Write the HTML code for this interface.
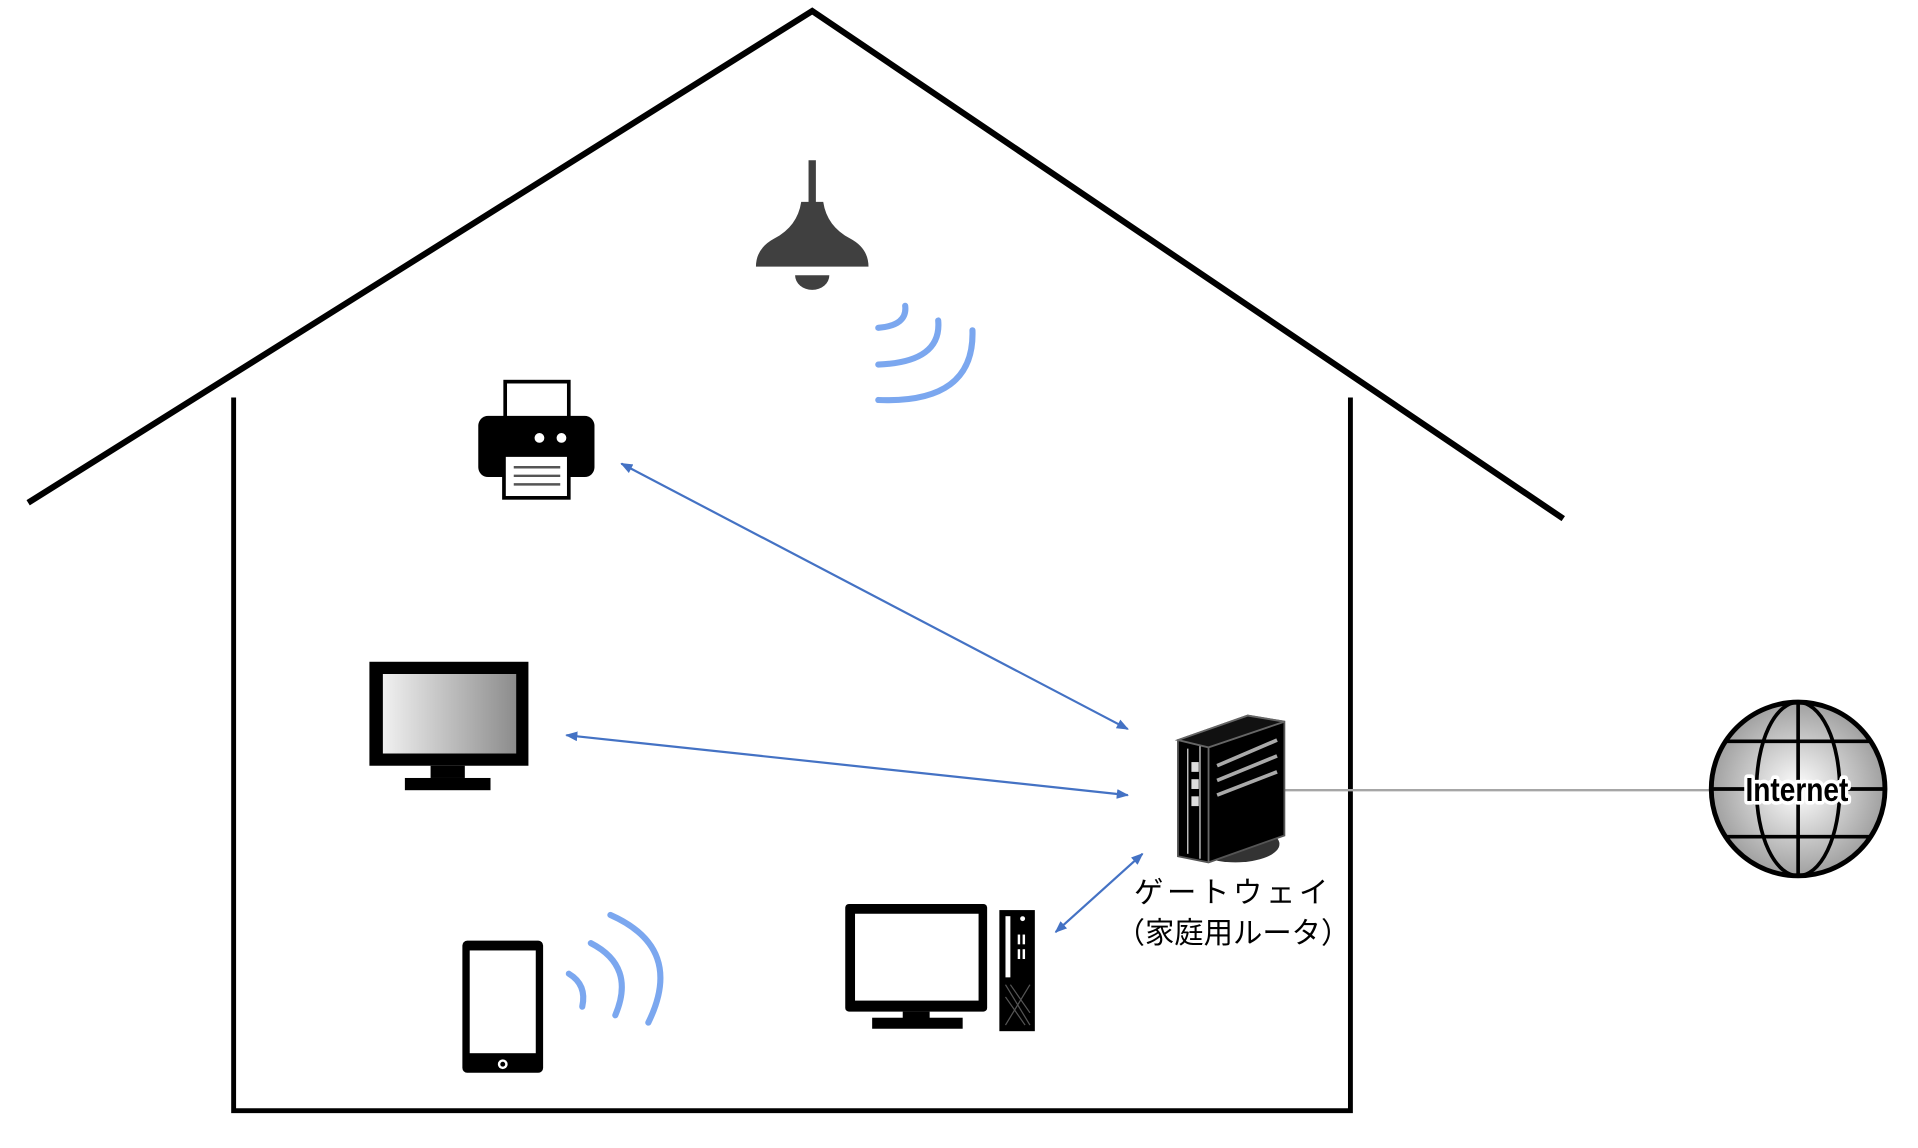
<!DOCTYPE html>
<html><head><meta charset="utf-8"><style>html,body{margin:0;padding:0;background:#fff;}svg{display:block}</style></head>
<body>
<svg width="1918" height="1148" viewBox="0 0 1568 938.5" preserveAspectRatio="none" xmlns="http://www.w3.org/2000/svg">
<defs>
<linearGradient id="scr" x1="0" x2="1" y1="0" y2="0"><stop offset="0" stop-color="#f0f0f0"/><stop offset="1" stop-color="#8c8c8c"/></linearGradient>
<radialGradient id="glb" cx="0.5" cy="0.5" r="0.5"><stop offset="0" stop-color="#ffffff"/><stop offset="1" stop-color="#a0a0a0"/></radialGradient>
<marker id="ah" markerWidth="10" markerHeight="8" refX="9" refY="4" orient="auto-start-reverse" markerUnits="userSpaceOnUse"><path d="M0,0 L10,4 L0,8 z" fill="#4472c4"/></marker>
</defs>
<polyline points="23,411 664,9 1278,424" fill="none" stroke="#000" stroke-width="5"/>
<path d="M191,325 V908 H1104 V325" fill="none" stroke="#000" stroke-width="4"/>
<rect x="661" y="131" width="6" height="36" fill="#404040"/>
<path d="M655,165 H673 Q676,185 695,195 Q710,203 710,218 H618 Q618,203 633,195 Q652,185 655,165 z" fill="#404040"/>
<path d="M650,225 A14,12 0 0 0 678,225 z" fill="#404040"/>
<g fill="none" stroke="#7ba7ef" stroke-width="5" stroke-linecap="round">
<path d="M740,250 Q742,266 718,268"/>
<path d="M767,262 Q770,296 718,298"/>
<path d="M795,270 Q797,330 718,327"/>
<path d="M465,796 Q480,805 476,823"/>
<path d="M483,771 Q520,790 503,830"/>
<path d="M499,748 Q560,775 530,836"/>
</g>
<rect x="413" y="312" width="52" height="32" fill="#fff" stroke="#000" stroke-width="3"/>
<rect x="391" y="340" width="95" height="50" rx="8" fill="#000"/>
<circle cx="441" cy="358" r="4" fill="#fff"/><circle cx="459" cy="358" r="4" fill="#fff"/>
<rect x="412" y="372" width="53" height="35" fill="#fff" stroke="#000" stroke-width="3"/>
<g stroke="#555" stroke-width="2"><line x1="420" y1="382" x2="458" y2="382"/><line x1="420" y1="389" x2="458" y2="389"/><line x1="420" y1="396" x2="458" y2="396"/></g>
<rect x="302" y="541" width="130" height="85" fill="#000"/>
<rect x="313" y="551" width="109" height="65" fill="url(#scr)"/>
<rect x="352" y="626" width="28" height="10" fill="#000"/>
<rect x="331" y="636" width="70" height="10" fill="#000"/>
<rect x="378" y="769" width="66" height="108" rx="4" fill="#000"/>
<rect x="384" y="777" width="54" height="84" fill="#fff"/>
<circle cx="411" cy="870" r="4" fill="#fff"/><circle cx="411" cy="870" r="2" fill="#000"/>
<rect x="691" y="739" width="116" height="88" rx="3" fill="#000"/>
<rect x="699" y="747" width="101" height="71" fill="#fff"/>
<rect x="738" y="827" width="22" height="6" fill="#000"/>
<rect x="713" y="832" width="74" height="9" fill="#000"/>
<rect x="817" y="744" width="29" height="99" fill="#000"/>
<rect x="822" y="749" width="4" height="50" fill="#fff"/>
<circle cx="836" cy="751" r="2" fill="#fff"/>
<g fill="#fff"><rect x="832" y="764" width="2" height="8"/><rect x="836" y="764" width="2" height="8"/><rect x="832" y="776" width="2" height="8"/><rect x="836" y="776" width="2" height="8"/></g>
<path d="M822,805 L842,838 M842,805 L822,838 M822,815 L838,838 M826,805 L842,828" stroke="#555" stroke-width="1"/>
<g stroke="#4472c4" stroke-width="1.8" fill="none">
<line x1="508" y1="379" x2="922" y2="596" marker-start="url(#ah)" marker-end="url(#ah)"/>
<line x1="463" y1="601" x2="922" y2="650" marker-start="url(#ah)" marker-end="url(#ah)"/>
<line x1="934" y1="698" x2="863" y2="762" marker-start="url(#ah)" marker-end="url(#ah)"/>
</g>
<line x1="1050" y1="646" x2="1398" y2="646" stroke="#a6a6a6" stroke-width="2"/>
<ellipse cx="1010" cy="690" rx="36" ry="15" fill="#333"/>
<path d="M963,605 L1020,585 L1050,590 L1050,683 L988,705 L963,700 z" fill="#000" stroke="#555" stroke-width="1.5"/>
<path d="M963,605 L1020,585 L1050,590 L988,611 z" fill="#111" stroke="#666" stroke-width="1.5"/>
<line x1="988" y1="611" x2="988" y2="705" stroke="#666" stroke-width="1.5"/>
<g stroke="#aaa" stroke-width="3"><line x1="995" y1="626" x2="1044" y2="605"/><line x1="995" y1="638" x2="1044" y2="618"/><line x1="995" y1="650" x2="1044" y2="631"/></g>
<g stroke="#bbb" stroke-width="1.2"><line x1="971" y1="612" x2="971" y2="698"/><line x1="981" y1="610" x2="981" y2="702"/></g>
<g fill="#ddd"><rect x="974" y="623" width="6" height="8"/><rect x="974" y="637" width="6" height="8"/><rect x="974" y="651" width="6" height="8"/></g>
<text x="1008" y="738" font-family="'Liberation Sans','Noto Sans CJK JP',sans-serif" font-size="24" text-anchor="middle" letter-spacing="3">ゲートウェイ</text>
<text x="1008" y="771" font-family="'Liberation Sans','Noto Sans CJK JP',sans-serif" font-size="24" text-anchor="middle">（家庭用ルータ）</text>
<circle cx="1470" cy="645" r="71" fill="url(#glb)" stroke="#000" stroke-width="4"/>
<g fill="none" stroke="#000" stroke-width="3">
<ellipse cx="1470" cy="645" rx="34" ry="71"/>
<line x1="1470" y1="574" x2="1470" y2="716"/>
<line x1="1410" y1="606" x2="1530" y2="606"/>
<line x1="1399" y1="645" x2="1541" y2="645"/>
<line x1="1410" y1="684" x2="1530" y2="684"/>
</g>
<g transform="translate(1469,655) scale(0.85,1)">
<text x="0" y="0" font-family="'Liberation Sans',sans-serif" font-weight="bold" font-size="27" text-anchor="middle" stroke="#fff" stroke-width="6" stroke-linejoin="round" fill="#fff">Internet</text>
<text x="0" y="0" font-family="'Liberation Sans',sans-serif" font-weight="bold" font-size="27" text-anchor="middle" fill="#000">Internet</text>
</g>
</svg>
</body></html>
